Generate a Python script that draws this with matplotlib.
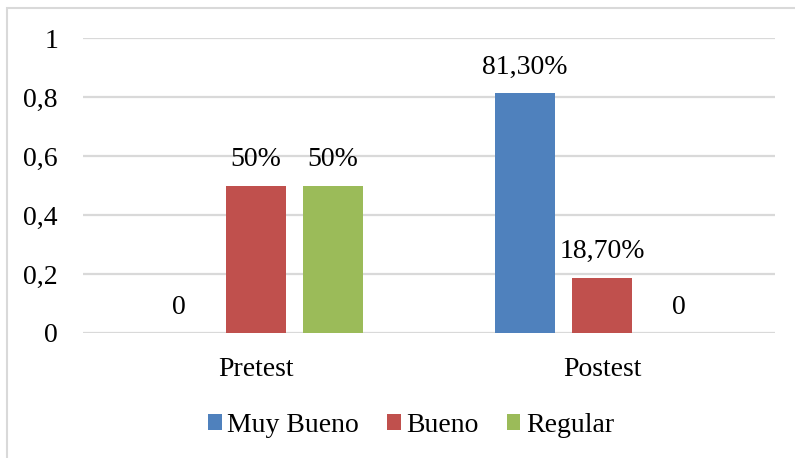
import numpy as np
import matplotlib.pyplot as plt
from matplotlib.patches import Rectangle

plt.rcParams['font.family'] = ['Liberation Serif', 'DejaVu Serif']

categorias = ["Pretest", "Postest"]
series = ["Muy Bueno", "Bueno", "Regular"]
valores = {
    "Muy Bueno": [0.0, 0.813],
    "Bueno": [0.5, 0.187],
    "Regular": [0.5, 0.0],
}
etiquetas = {
    "Muy Bueno": ["0", "81,30%"],
    "Bueno": ["50%", "18,70%"],
    "Regular": ["50%", "0"],
}
colores = ["#4F81BD", "#C0504D", "#9BBB59"]
yticks = [0, 0.2, 0.4, 0.6, 0.8, 1]
ytick_labels = ["0", "0,2", "0,4", "0,6", "0,8", "1"]

W, H = 795, 458
fig = plt.figure(figsize=(W / 100, H / 100), dpi=100)

# marco gris del grafico (cortado a la derecha y abajo)
fig.patches.append(Rectangle((7 / W, -0.05), 1.2, 1 - 8 / H + 0.05,
                             transform=fig.transFigure, fill=False,
                             edgecolor="#D9D9D9", linewidth=1.5))

ax = fig.add_axes([83 / W, 1 - 333 / H, (775 - 83) / W, (333 - 38) / H])

x = np.arange(len(categorias))
ancho = 0.176
paso = 0.2225
for i, s in enumerate(series):
    pos = x + (i - 1) * paso
    barras = ax.bar(pos, valores[s], ancho, color=colores[i], label=s, zorder=3)
    for b, txt in zip(barras, etiquetas[s]):
        ax.annotate(txt, (b.get_x() + b.get_width() / 2, b.get_height()),
                    xytext=(0, 26), textcoords="offset pixels",
                    ha="center", va="center", fontsize=20)

ax.set_xlim(-0.5, 1.5)
ax.set_ylim(0, 1)
ax.set_yticks(yticks)
ax.set_yticklabels(ytick_labels)
ax.set_xticks(x)
ax.set_xticklabels(categorias)
ax.tick_params(axis="y", length=0, pad=18, labelsize=20)
ax.tick_params(axis="x", length=0, pad=17, labelsize=20)
ax.grid(axis="y", color="#D9D9D9", linewidth=1.6, zorder=0)
for sp in ax.spines.values():
    sp.set_visible(False)

# leyenda abajo, un poco a la izquierda del centro como en Excel
ax.legend(loc="center",
          bbox_to_anchor=((411 - 83) / (775 - 83),
                          (1 - 425 / H - (1 - 333 / H)) / ((333 - 38) / H)),
          ncol=3, frameon=False, fontsize=20, handlelength=0.5, handleheight=0.5,
          handletextpad=0.2, columnspacing=1.0)

fig.savefig("out.png", dpi=100)
